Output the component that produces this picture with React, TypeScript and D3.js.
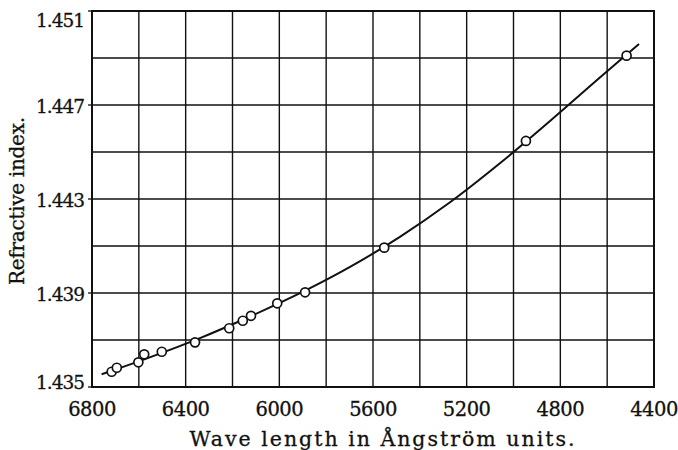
import React from "react";
import * as d3 from "d3";

const W = 678;
const H = 450;

// Measured points: wavelength (Å) and refractive index
const wavelengths = [6716, 6694, 6602, 6577, 6502, 6360, 6214, 6156, 6121, 6009, 5890, 5552, 4947, 4517];
const indices = [1.43565, 1.43582, 1.43605, 1.43639, 1.4365, 1.4369, 1.4375, 1.43782, 1.43803, 1.43856, 1.43903, 1.44093, 1.44547, 1.4491];

// Smooth curve
const curveWavelengths = [6759, 6595, 6339, 6125, 5890, 5698, 5485, 5271, 5058, 4844, 4631, 4464];
const curveIndices = [1.43554, 1.43611, 1.43708, 1.438, 1.4391, 1.44011, 1.44139, 1.44286, 1.44452, 1.44632, 1.44817, 1.4496];

const xTickLabels = [6800, 6400, 6000, 5600, 5200, 4800, 4400];
const yTickLabels = [1.435, 1.439, 1.443, 1.447, 1.451];
const xGrid = d3.range(6800, 4399, -200);
const yGrid = d3.range(0, 9).map((i) => 1.435 + i * 0.002);

const xTitle = "Wave length in Ångström units.";
const yTitle = "Refractive index.";

export default function App() {
  const left = 92, right = 654, top = 11, bottom = 387;
  const x = d3.scaleLinear().domain([6800, 4400]).range([left, right]);
  const y = d3.scaleLinear().domain([1.435, 1.451]).range([bottom, top]);

  const line = d3
    .line<[number, number]>()
    .x((d) => x(d[0]))
    .y((d) => y(d[1]))
    .curve(d3.curveCatmullRom.alpha(0.5));
  const curveData: [number, number][] = curveWavelengths.map((w, i) => [w, curveIndices[i]]);

  const font = "'DejaVu Serif', serif";
  const ink = "#111";

  const yLabelOffset = (v: number) => {
    if (Math.abs(v - 1.451) < 1e-9) return 9;
    if (Math.abs(v - 1.435) < 1e-9) return -5;
    return 1;
  };

  return (
    <svg
      width={W}
      height={H}
      viewBox={`0 0 ${W} ${H}`}
      style={{ position: "absolute", left: 0, top: 0, background: "#fff" }}
    >
      <rect x={0} y={0} width={W} height={H} fill="#fff" />
      {xGrid.map((v) => (
        <line key={"gx" + v} x1={x(v)} x2={x(v)} y1={top} y2={bottom} stroke={ink} strokeWidth={1.4} />
      ))}
      {yGrid.map((v, i) => (
        <line key={"gy" + i} x1={left} x2={right} y1={y(v)} y2={y(v)} stroke={ink} strokeWidth={1.4} />
      ))}
      <rect x={left} y={top} width={right - left} height={bottom - top} fill="none" stroke={ink} strokeWidth={2} />
      {yTickLabels.map((v) => (
        <line key={"t" + v} x1={left - 4} x2={left} y1={y(v)} y2={y(v)} stroke={ink} strokeWidth={1.3} />
      ))}
      <path d={line(curveData) || ""} fill="none" stroke={ink} strokeWidth={2} />
      {wavelengths.map((w, i) => (
        <circle key={"p" + i} cx={x(w)} cy={y(indices[i])} r={4.5} fill="#fff" stroke={ink} strokeWidth={1.7} />
      ))}
      {yTickLabels.map((v) => (
        <text
          key={"yl" + v}
          x={84}
          y={y(v) + yLabelOffset(v)}
          textAnchor="end"
          dominantBaseline="central"
          fontFamily={font}
          fontSize={18.5}
          letterSpacing={-1}
          fill={ink}
          stroke={ink}
          strokeWidth={0.3}
        >
          {v.toFixed(3)}
        </text>
      ))}
      {xTickLabels.map((v) => (
        <text
          key={"xl" + v}
          x={x(v)}
          y={416}
          textAnchor="middle"
          fontFamily={font}
          fontSize={19.5}
          letterSpacing={-0.5}
          fill={ink}
          stroke={ink}
          strokeWidth={0.3}
        >
          {v}
        </text>
      ))}
      <text
        x={382}
        y={446}
        textAnchor="middle"
        fontFamily={font}
        fontSize={20.5}
        textLength={385}
        lengthAdjust="spacing"
        fill={ink}
        stroke={ink}
        strokeWidth={0.3}
      >
        {xTitle}
      </text>
      <text
        transform={`translate(24, 201) rotate(-90)`}
        textAnchor="middle"
        fontFamily={font}
        fontSize={20}
        textLength={168}
        lengthAdjust="spacing"
        fill={ink}
        stroke={ink}
        strokeWidth={0.3}
      >
        {yTitle}
      </text>
    </svg>
  );
}
